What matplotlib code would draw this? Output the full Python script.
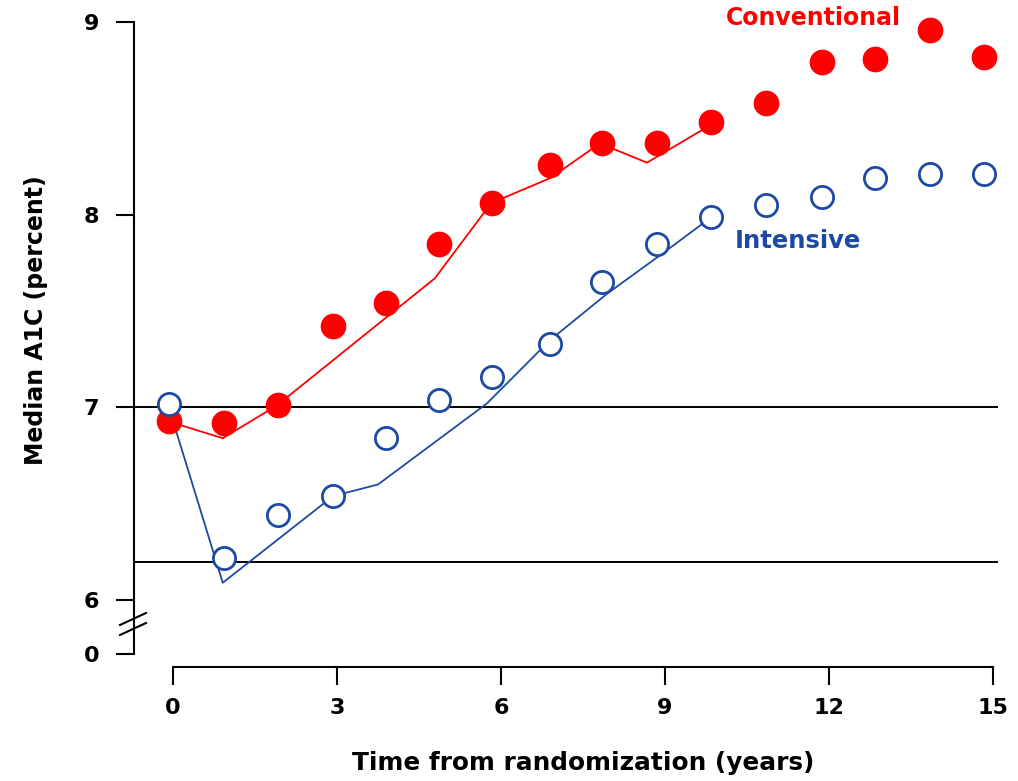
import matplotlib
matplotlib.use("Agg")
import matplotlib.pyplot as plt
from matplotlib.lines import Line2D
import numpy as np

# ---- data ----
visit_years = [-0.07, 0.93, 1.92, 2.92, 3.90, 4.87, 5.83, 6.90, 7.85, 8.85,
               9.84, 10.85, 11.87, 12.84, 13.85, 14.83]
conv_a1c = [6.93, 6.92, 7.01, 7.42, 7.54, 7.85, 8.06, 8.26, 8.37, 8.37,
            8.48, 8.58, 8.79, 8.81, 8.96, 8.82]
int_a1c = [7.02, 6.22, 6.44, 6.54, 6.84, 7.04, 7.16, 7.33, 7.65, 7.85,
           7.99, 8.05, 8.09, 8.19, 8.21, 8.21]

conv_line_x = [0.0, 0.91, 1.90, 4.79, 5.82, 6.90, 7.81, 8.67, 9.86]
conv_line_y = [6.92, 6.84, 7.01, 7.67, 8.06, 8.19, 8.37, 8.27, 8.47]
int_line_x = [0.0, 0.91, 2.93, 3.75, 5.74, 6.90, 7.94, 8.96, 9.86]
int_line_y = [6.93, 6.09, 6.54, 6.60, 7.02, 7.35, 7.59, 7.80, 7.99]

ref_levels = [7.0, 6.2]
x_ticks = [0, 3, 6, 9, 12, 15]
y_ticks = [0, 6, 7, 8, 9]

RED = "#ff0000"
BLUE = "#1c4aa2"

# broken y scale: 0..6 compressed
BREAK_LO = 5.72
def fwd(y):
    y = np.asarray(y, dtype=float)
    return np.where(y >= 6, y, BREAK_LO + y * (6 - BREAK_LO) / 6.0)
def inv(v):
    v = np.asarray(v, dtype=float)
    return np.where(v >= 6, v, (v - BREAK_LO) * 6.0 / (6 - BREAK_LO))

W, H = 1018, 781
fig = plt.figure(figsize=(W / 100, H / 100), dpi=100)
left_px, right_px, top_px, bot_px = 134, 998, 22, 667
ax = fig.add_axes([left_px / W, 1 - bot_px / H, (right_px - left_px) / W, (bot_px - top_px) / H])
ax.set_yscale("function", functions=(fwd, inv))

pxyr = 54.67
ax.set_xlim(-(173 - left_px) / pxyr, (right_px - 173) / pxyr)
ax.set_ylim(inv(6 - (bot_px - 600) / 193.0).item(), 9)

for lv in ref_levels:
    ax.axhline(lv, color="black", lw=1.4, zorder=1)

ax.plot(conv_line_x, conv_line_y, color=RED, lw=1.3, zorder=2, clip_on=False)
ax.plot(int_line_x, int_line_y, color=BLUE, lw=1.3, zorder=2, clip_on=False)
ax.plot(visit_years, conv_a1c, "o", ms=17.5, color=RED, mec=RED, zorder=3, clip_on=False)
ax.plot(visit_years, int_a1c, "o", ms=16, mfc="white", mec=BLUE, mew=2, zorder=4, clip_on=False)

ax.text(11.72, 9.02, "Conventional", color=RED, fontsize=17, fontweight="bold",
        ha="center", va="center", zorder=5)
ax.text(11.43, 7.865, "Intensive", color=BLUE, fontsize=17.5, fontweight="bold",
        ha="center", va="center", zorder=5)

for s in ["top", "right"]:
    ax.spines[s].set_visible(False)
ax.spines["left"].set_bounds(0, 9)
ax.spines["bottom"].set_bounds(0, 15)
for s in ["left", "bottom"]:
    ax.spines[s].set_linewidth(1.5)

ax.set_xticks(x_ticks)
ax.set_xticklabels([str(t) for t in x_ticks])
ax.set_yticks(y_ticks)
ax.set_yticklabels([str(t) for t in y_ticks])
ax.tick_params(axis="both", direction="out", length=13, width=1.5, labelsize=16)
ax.tick_params(axis="y", pad=12)
ax.tick_params(axis="x", pad=9)
for lab in ax.get_xticklabels() + ax.get_yticklabels():
    lab.set_fontweight("bold")

ax.set_xlabel("Time from randomization (years)", fontsize=17.8, fontweight="bold", labelpad=24)
ax.set_ylabel("Median A1C (percent)", fontsize=17, fontweight="bold", labelpad=26)
ax.xaxis.label.set_x((583 - left_px) / (right_px - left_px))
ax.yaxis.label.set_y((bot_px - 320) / (bot_px - top_px))

# axis break marks
for dy in (0, 10):
    fig.add_artist(Line2D([120 / W, 146 / W], [1 - (625 + dy) / H, 1 - (613 + dy) / H],
                          color="black", lw=1.5))

fig.savefig("out.png", dpi=100)
